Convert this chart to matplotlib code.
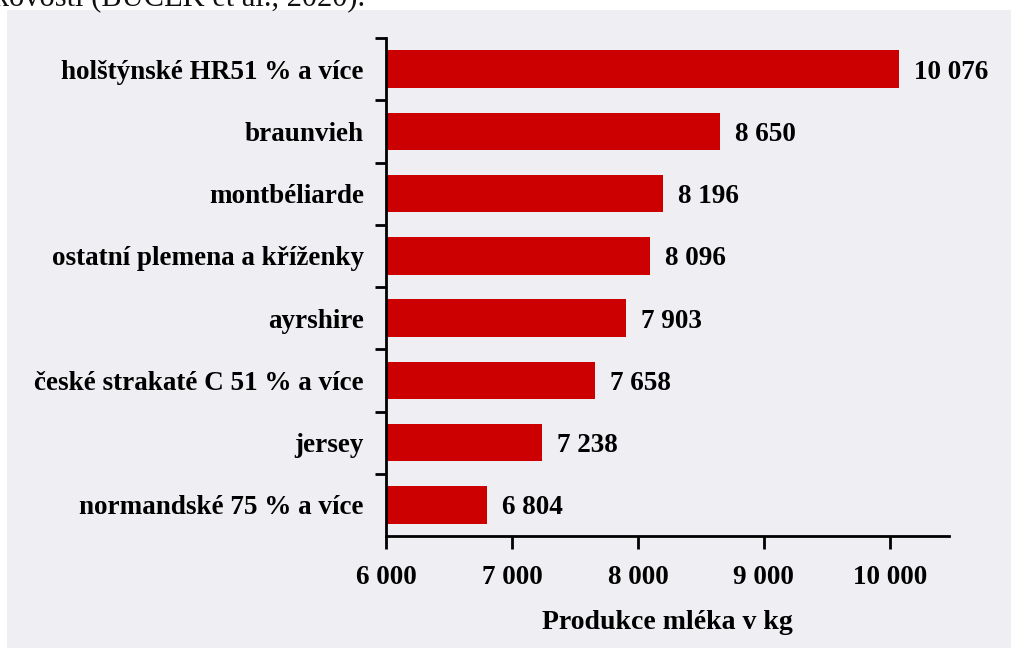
import matplotlib
matplotlib.use("Agg")
import matplotlib.pyplot as plt
from matplotlib.patches import Rectangle
from matplotlib.ticker import FuncFormatter

# data
plemena = ["holštýnské HR51 % a více", "braunvieh", "montbéliarde",
           "ostatní plemena a kříženky", "ayrshire", "české strakaté C 51 % a více",
           "jersey", "normandské 75 % a více"]
mleko = [10076, 8650, 8196, 8096, 7903, 7658, 7238, 6804]
xticks = [6000, 7000, 8000, 9000, 10000]

plt.rcParams["font.family"] = ["Liberation Serif", "DejaVu Serif"]
plt.rcParams["font.weight"] = "bold"
fs = 19.5

fig = plt.figure(figsize=(10.11, 6.48), dpi=100, facecolor="white")

# scanned paper background
fig.patches.append(Rectangle((7 / 1011, 0), 1, 1 - 10 / 648, transform=fig.transFigure,
                             facecolor="#eeeef3", edgecolor="none", zorder=-5))
# cut line of text above the chart
fig.text(365 / 1011, 1 - 6 / 648, "užitkovosti (BUČEK et al., 2020).", ha="right",
         va="baseline", fontsize=22, fontweight="normal", color="#111111")

ax = fig.add_axes([386 / 1011, 1 - 536 / 648, (949 - 386) / 1011, (536 - 38) / 648])
ax.set_facecolor("none")
ax.set_zorder(2)

y = list(range(len(plemena)))
ax.barh(y, [v - 6000 for v in mleko], left=6000, height=0.6, color="#cc0000")
for yi, v in zip(y, mleko):
    ax.text(v + 120, yi + 0.05, f"{v:,}".replace(",", " "), va="center", ha="left",
            fontsize=fs, fontweight="bold", color="black")

ax.set_xlim(6000, 10470)
ax.set_ylim(len(plemena) - 0.5, -0.5)

ax.set_yticks(y)
ax.set_yticklabels(plemena, fontsize=fs, fontweight="bold")
ax.tick_params(axis="y", which="major", length=0, pad=16)
ax.set_yticks([i - 0.5 for i in range(len(plemena))], minor=True)
ax.tick_params(axis="y", which="minor", length=8, width=2, direction="out")

ax.set_xticks(xticks)
ax.xaxis.set_major_formatter(FuncFormatter(lambda v, p: f"{int(v):,}".replace(",", " ")))
ax.tick_params(axis="x", length=9, width=2, direction="out", pad=12, labelsize=fs)
for lab in ax.get_xticklabels():
    lab.set_fontweight("bold")

ax.set_xlabel("Produkce mléka v kg", fontsize=20, fontweight="bold", labelpad=14)

for s in ["top", "right"]:
    ax.spines[s].set_visible(False)
for s in ["left", "bottom"]:
    ax.spines[s].set_linewidth(2)

fig.savefig("out.png", dpi=100, facecolor=fig.get_facecolor())
